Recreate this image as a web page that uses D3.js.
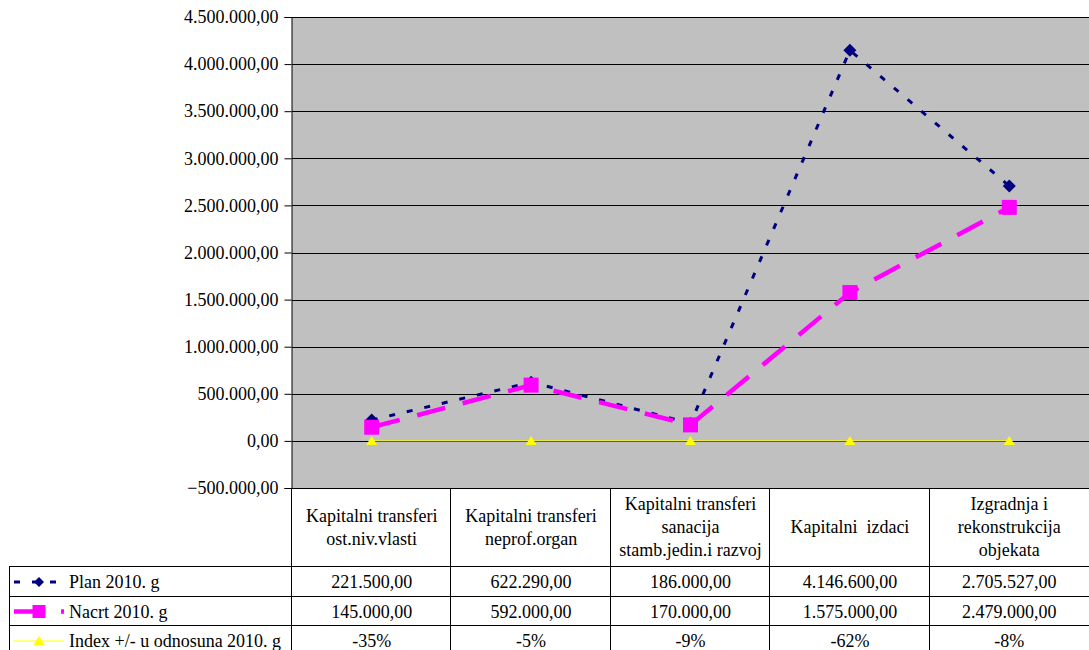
<!DOCTYPE html>
<html>
<head>
<meta charset="utf-8">
<script src="https://cdn.jsdelivr.net/npm/d3@7"></script>
<style>
  body { margin: 0; background: #fff; }
  text { font-family: "Liberation Serif", "Times New Roman", serif; font-size: 18px; fill: #000; white-space: pre; }
</style>
</head>
<body>
<svg id="chart" width="1089" height="650"></svg>
<script>
// Category labels (line-broken as in the data table header)
var categories = [
    ["Kapitalni transferi", "ost.niv.vlasti"],
    ["Kapitalni transferi", "neprof.organ"],
    ["Kapitalni transferi", "sanacija", "stamb.jedin.i razvoj"],
    ["Kapitalni  izdaci"],
    ["Izgradnja i", "rekonstrukcija", "objekata"]
];

var seriesNames = ["Plan 2010. g", "Nacrt 2010. g", "Index +/- u odnosuna 2010. g"];
var planValues = [221500, 622290, 186000, 4146600, 2705527];
var nacrtValues = [145000, 592000, 170000, 1575000, 2479000];
var indexValues = [-0.35, -0.05, -0.09, -0.62, -0.08];
var indexLabels = ["-35%", "-5%", "-9%", "-62%", "-8%"];
var yTicks = [-500000, 0, 500000, 1000000, 1500000, 2000000, 2500000, 3000000, 3500000, 4000000, 4500000];

var svg = d3.select("#chart");

var plotLeft = 292, plotRight = 1089, plotTop = 17, plotBottom = 488;
var rowTops = [566, 596, 625, 655];

var x = d3.scaleBand().domain(d3.range(categories.length)).range([plotLeft, plotRight]);
var y = d3.scaleLinear().domain([-500000, 4500000]).range([plotBottom, plotTop]);

// Croatian-style number format: 1.234.567,00
var fmt = d3.formatLocale({decimal: ",", thousands: ".", grouping: [3], currency: ["", ""]}).format(",.2f");

// Plot area background
svg.append("rect")
    .attr("x", plotLeft).attr("y", plotTop)
    .attr("width", plotRight - plotLeft).attr("height", plotBottom - plotTop)
    .attr("fill", "#c0c0c0");

// Gridlines
svg.append("g").selectAll("line")
    .data(yTicks)
    .enter().append("line")
    .attr("x1", plotLeft).attr("x2", plotRight)
    .attr("y1", function(d) { return Math.round(y(d)) + 0.5; })
    .attr("y2", function(d) { return Math.round(y(d)) + 0.5; })
    .attr("stroke", "#000").attr("stroke-width", 1);

// Y axis
var yAxis = d3.axisLeft(y).tickValues(yTicks).tickSize(7).tickPadding(6).tickFormat(fmt);
var gy = svg.append("g").attr("transform", "translate(" + (plotLeft - 0.5) + ",0)").call(yAxis);
gy.select(".domain").attr("stroke", "#000");
gy.selectAll(".tick line").attr("stroke", "#000");
gy.selectAll(".tick text")
    .attr("fill", "#000")
    .style("font-family", "'Liberation Serif', 'Times New Roman', serif")
    .style("font-size", "18px");

// Data table: grid lines
var tableLines = svg.append("g").attr("stroke", "#000").attr("stroke-width", 1);
x.domain().forEach(function(i) {
    var xl = Math.round(x(i)) - 0.5;
    tableLines.append("line").attr("x1", xl).attr("x2", xl).attr("y1", plotBottom).attr("y2", 650);
});
tableLines.append("line").attr("x1", plotLeft).attr("x2", plotRight)
    .attr("y1", plotBottom + 0.5).attr("y2", plotBottom + 0.5);
rowTops.slice(0, 3).forEach(function(t) {
    tableLines.append("line").attr("x1", 9).attr("x2", plotRight).attr("y1", t + 0.5).attr("y2", t + 0.5);
});
tableLines.append("line").attr("x1", 9.5).attr("x2", 9.5).attr("y1", rowTops[0]).attr("y2", 650);

// Header labels
var headerMid = (plotBottom + rowTops[0]) / 2;
var header = svg.append("g").selectAll("text")
    .data(categories)
    .enter().append("text")
    .attr("text-anchor", "middle")
    .attr("x", function(d, i) { return x(i) + x.bandwidth() / 2; })
    .attr("y", function(d) { return headerMid - (d.length - 1) * 23 / 2; });
header.selectAll("tspan")
    .data(function(d) { return d; })
    .enter().append("tspan")
    .attr("x", function() { return d3.select(this.parentNode).attr("x"); })
    .attr("dy", function(d, i) { return i === 0 ? "0.35em" : 23; })
    .text(function(d) { return d; });

// Table values
var rowText = [planValues.map(fmt), nacrtValues.map(fmt), indexLabels];
rowText.forEach(function(row, r) {
    var cy = (rowTops[r] + rowTops[r + 1]) / 2 + 1;
    svg.append("g").selectAll("text")
        .data(row)
        .enter().append("text")
        .attr("text-anchor", "middle")
        .attr("x", function(d, i) { return x(i) + x.bandwidth() / 2; })
        .attr("y", cy)
        .attr("dy", "0.35em")
        .text(function(d) { return d; });
});

// Series lines
var cx = function(d, i) { return x(i) + x.bandwidth() / 2; };
var line = d3.line().x(cx).y(function(d) { return y(d); });

svg.append("path").datum(indexValues).attr("d", line)
    .attr("fill", "none").attr("stroke", "#ffff00").attr("stroke-width", 1);
svg.append("path").datum(planValues).attr("d", line)
    .attr("fill", "none").attr("stroke", "#000080").attr("stroke-width", 3)
    .attr("stroke-dasharray", "6,12");
svg.append("path").datum(nacrtValues).attr("d", line)
    .attr("fill", "none").attr("stroke", "#ff00ff").attr("stroke-width", 4.5)
    .attr("stroke-dasharray", "29,18");

// Marker shapes
function diamond(r) { return "M0," + (-r) + "L" + r + ",0L0," + r + "L" + (-r) + ",0Z"; }
function square(r) { return "M" + (-r) + "," + (-r) + "H" + r + "V" + r + "H" + (-r) + "Z"; }
function triangle(r) { return "M0," + (-r) + "L" + (r * 1.1) + "," + (r * 0.8) + "L" + (-r * 1.1) + "," + (r * 0.8) + "Z"; }

svg.append("g").selectAll("path")
    .data(indexValues).enter().append("path")
    .attr("transform", function(d, i) { return "translate(" + cx(d, i) + "," + y(d) + ")"; })
    .attr("d", triangle(5)).attr("fill", "#ffff00");
svg.append("g").selectAll("path")
    .data(planValues).enter().append("path")
    .attr("transform", function(d, i) { return "translate(" + cx(d, i) + "," + y(d) + ")"; })
    .attr("d", diamond(6.5)).attr("fill", "#000080");
svg.append("g").selectAll("path")
    .data(nacrtValues).enter().append("path")
    .attr("transform", function(d, i) { return "translate(" + cx(d, i) + "," + y(d) + ")"; })
    .attr("d", square(7.5)).attr("fill", "#ff00ff");

// Legend keys in the table
var keyStyles = [
    {stroke: "#000080", width: 3, dash: "6,12", marker: diamond(5), fill: "#000080"},
    {stroke: "#ff00ff", width: 4.5, dash: "29,18", marker: square(6.5), fill: "#ff00ff"},
    {stroke: "#ffff00", width: 1, dash: null, marker: triangle(5), fill: "#ffff00"}
];
seriesNames.forEach(function(name, r) {
    var cy = (rowTops[r] + rowTops[r + 1]) / 2 + 1;
    var k = keyStyles[r];
    svg.append("line").attr("x1", 14).attr("x2", 64).attr("y1", cy).attr("y2", cy)
        .attr("stroke", k.stroke).attr("stroke-width", k.width)
        .attr("stroke-dasharray", k.dash);
    svg.append("path").attr("transform", "translate(39," + cy + ")")
        .attr("d", k.marker).attr("fill", k.fill);
    svg.append("text").attr("x", 69).attr("y", cy).attr("dy", "0.35em").text(name);
});
</script>
</body>
</html>
